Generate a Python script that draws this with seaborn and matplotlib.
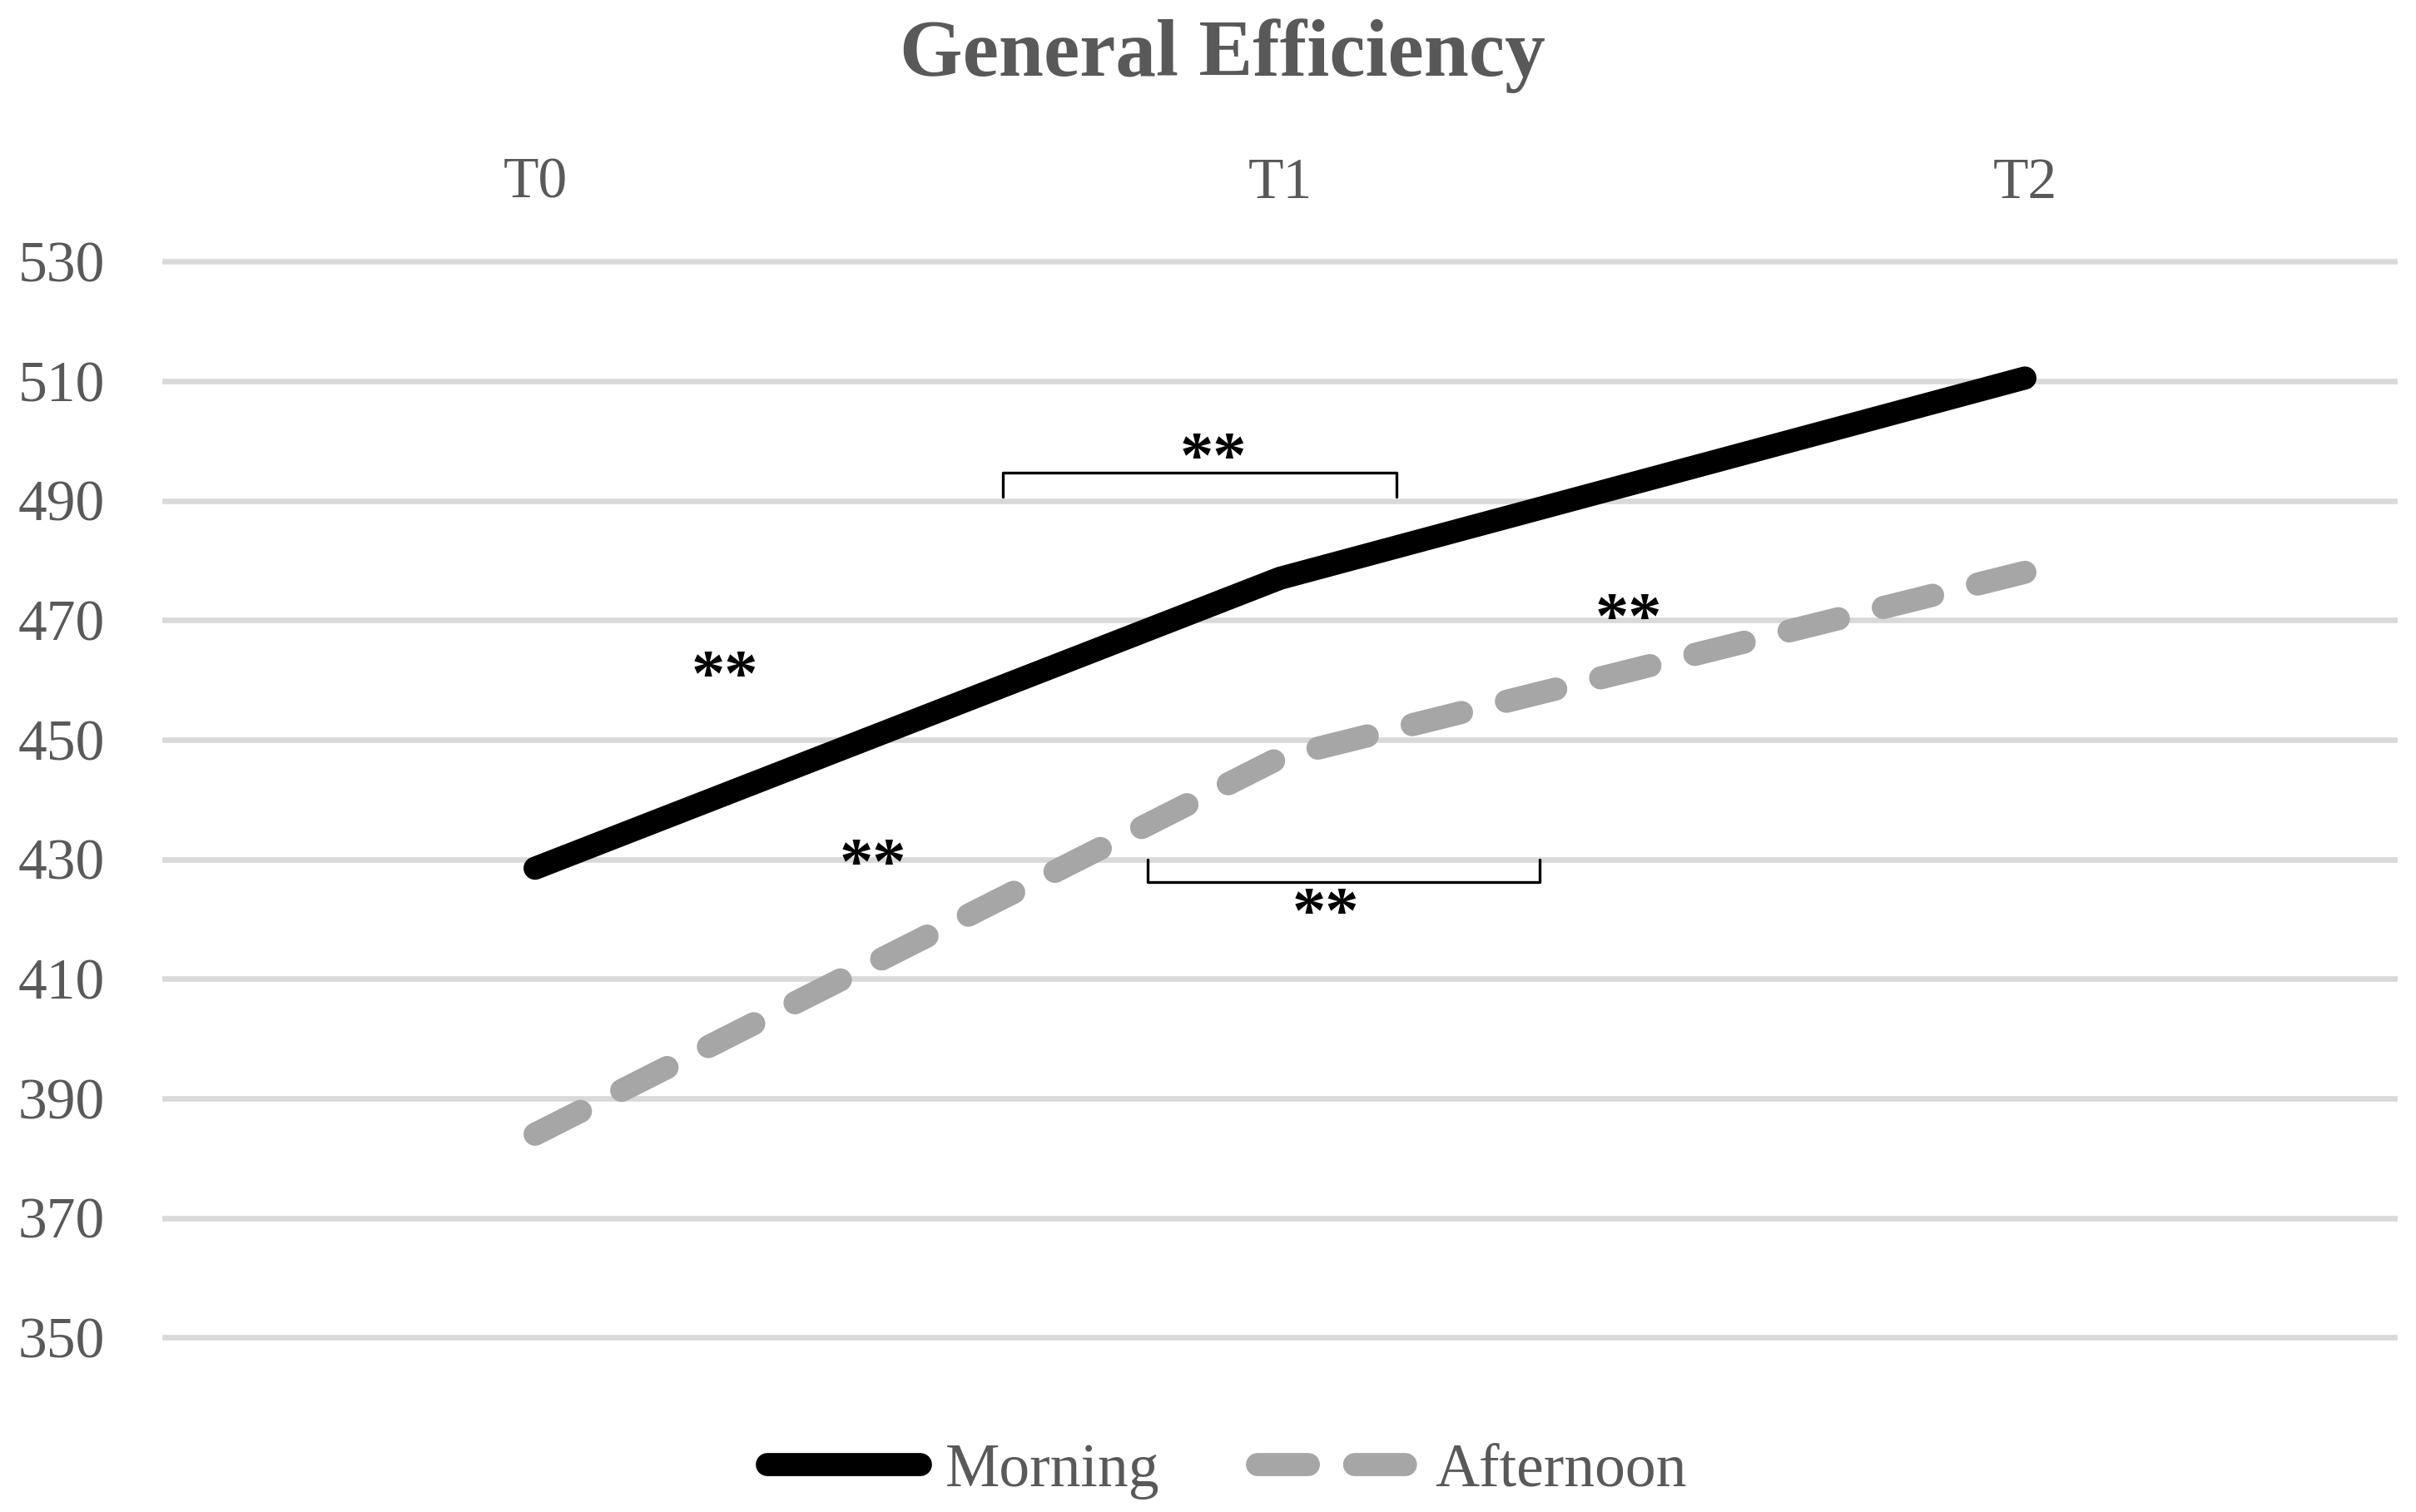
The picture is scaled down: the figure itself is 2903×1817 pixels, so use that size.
import pandas as pd
import matplotlib.pyplot as plt
import seaborn as sns

# ==========================
# Data
# ==========================

timepoints = ["T0", "T1", "T2"]
morning = [428.5, 477, 510.5]
afternoon = [384, 447, 478]
y_ticks = [350, 370, 390, 410, 430, 450, 470, 490, 510, 530]

# significance marks (x in category units, y in score units)
star_x = [0.255, 0.454, 0.911, 1.061, 1.468]
star_y = [462.0, 430.6, 498.5, 422.4, 471.6]
bracket_x = [[0.628, 1.156], [0.822, 1.349]]
bracket_y = [494.6, 426.2]
bracket_end = [490.7, 429.9]

df = pd.DataFrame({
    "Time": timepoints * 2,
    "Score": morning + afternoon,
    "Session": ["Morning"] * 3 + ["Afternoon"] * 3,
})

# ==========================
# Plot
# ==========================

sns.set_style("white")
plt.rcParams["font.family"] = ["Liberation Serif", "DejaVu Serif"]

grey_text = "#595959"

fig = plt.figure(figsize=(14.515, 9.085), dpi=200)
ax = fig.add_axes([0.0673, 0.1075, 0.925, 0.7275])

sns.lineplot(
    data=df, x="Time", y="Score",
    hue="Session", style="Session",
    palette={"Morning": "black", "Afternoon": "#A6A6A6"},
    dashes={"Morning": "", "Afternoon": (2.2, 2.0)},
    linewidth=10, sort=False, ax=ax,
)

for line in ax.lines:
    line.set_solid_capstyle("round")
    line.set_dash_capstyle("round")

handles, labels = ax.get_legend_handles_labels()
for h in handles:
    h.set_solid_capstyle("round")
    h.set_dash_capstyle("round")
ax.get_legend().remove()

# brackets and stars
for (x0, x1), yb, ye in zip(bracket_x, bracket_y, bracket_end):
    ax.plot([x0, x0, x1, x1], [ye, yb, yb, ye], color="black", lw=1.2)

for x, y in zip(star_x, star_y):
    ax.annotate("**", (x, y), xytext=(0, -5), textcoords="offset points",
                ha="center", va="center", fontsize=29,
                fontweight="bold", color="black")

# axes styling
ax.set_xlim(-0.5, 2.5)
ax.set_ylim(348, 532)
ax.set_yticks(y_ticks)
ax.grid(axis="y", color="#D9D9D9", lw=2.4)
ax.grid(axis="x", visible=False)
ax.set_axisbelow(True)
ax.xaxis.tick_top()
ax.tick_params(axis="both", length=0, labelsize=25, labelcolor=grey_text)
ax.tick_params(axis="x", pad=17)
ax.tick_params(axis="y", pad=25)
ax.set_xlabel("")
ax.set_ylabel("")
for s in ax.spines.values():
    s.set_visible(False)

fig.text(0.506, 0.963, "General Efficiency", ha="center", va="center",
         fontsize=35, fontweight="bold", color=grey_text)

fig.legend(handles, labels, loc="center", bbox_to_anchor=(0.508, 0.027),
           ncol=2, frameon=False, fontsize=26.5, handlelength=2.5,
           handletextpad=0.4, columnspacing=1.6, labelcolor=grey_text)

fig.savefig("out.png", dpi=200)
